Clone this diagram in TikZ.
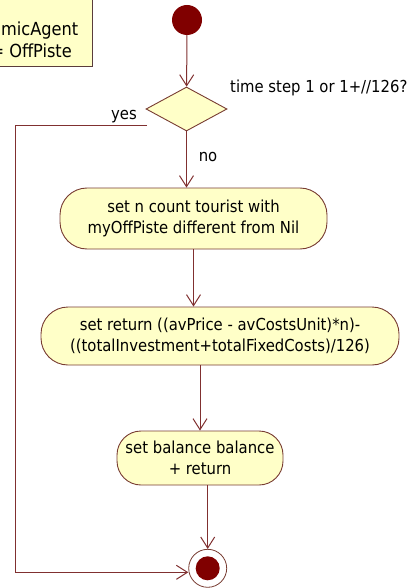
\documentclass[tikz,border=0pt]{standalone}
\usepackage{fontspec}
\setmainfont{DejaVu Sans Condensed}
\usetikzlibrary{arrows.meta,shapes.geometric}
\definecolor{umlline}{RGB}{128,48,48}
\definecolor{umlborder}{RGB}{120,60,50}
\definecolor{umlfill}{RGB}{255,255,200}
\definecolor{umldot}{RGB}{128,0,0}
\definecolor{noteborder}{RGB}{90,60,60}
\begin{document}
\begin{tikzpicture}[x=1pt,y=-1pt,
  font=\fontsize{16.5}{20.5}\selectfont,
  action/.style={draw=umlborder, fill=umlfill, rounded corners=27pt,
    align=center, inner sep=0pt, line width=0.9pt},
  decision/.style={diamond, draw=umlborder, fill=umlfill, inner sep=0pt,
    line width=0.9pt, minimum width=81pt, minimum height=44pt},
  flow/.style={draw=umlline, line width=1pt,
    -{Straight Barb[length=11pt,width=14pt]}},
  lbl/.style={inner sep=0pt, text=black},
  notetext/.style={lbl, font=\fontsize{18}{22}\selectfont}]
\useasboundingbox (0,0) rectangle (416,588);
\clip (0,0) rectangle (416,588);

% note attached to the activity
\node (note) [rectangle, draw=noteborder, fill=umlfill, line width=0.9pt,
  anchor=south east, minimum width=120pt, minimum height=80pt] at (92.6,67) {};
\node[notetext, anchor=west] (notea) at (1,31) {micAgent};
\node[notetext, anchor=east] (noteb) at (72,51) {= OffPiste};

% start, decision, actions, end
\node (init) [circle, fill=umldot, minimum size=30pt, inner sep=0pt] at (187,20) {};
\node (dia) [decision] at (186.5,109) {};
\node (a1) [action, minimum width=267pt, minimum height=61pt] at (193.5,218.5)
  {set n count tourist with\\myOffPiste different from Nil};
\node (a2) [action, minimum width=358pt, minimum height=58pt] at (220,336)
  {set return ((avPrice - avCostsUnit)*n)-\\((totalInvestment+totalFixedCosts)/126)};
\node (a3) [action, minimum width=166pt, minimum height=54pt, rounded corners=24pt] at (200,458)
  {set balance balance\\+ return};
\node (fin) [circle, draw=umlborder, fill=white, line width=0.8pt,
  minimum size=38pt, inner sep=0pt] at (207.7,568.3) {};
\node (findot) [circle, fill=umldot, minimum size=24pt, inner sep=0pt] at (fin.center) {};

% guard and branch labels
\node[lbl, anchor=west] (guard) at (230,88) {time step 1 or 1+//126?};
\node[lbl] (yeslbl) at (124,117) {yes};
\node[lbl] (nolbl) at (208,157) {no};

% control flow
\draw[flow] (init) -- (dia);
\draw[flow] (dia.south) -- (dia.south |- a1.north);
\draw[flow] (a1.south) -- (a1.south |- a2.north);
\draw[flow] (a2.south -| a3.north) -- (a3.north);
\draw[flow] (a3.south -| fin.north) -- (fin.north);
\coordinate (yesstart) at (147,126);
\draw[flow] (yesstart) -- (15,126) |- ([yshift=-4pt]fin.west);
\end{tikzpicture}
\end{document}
